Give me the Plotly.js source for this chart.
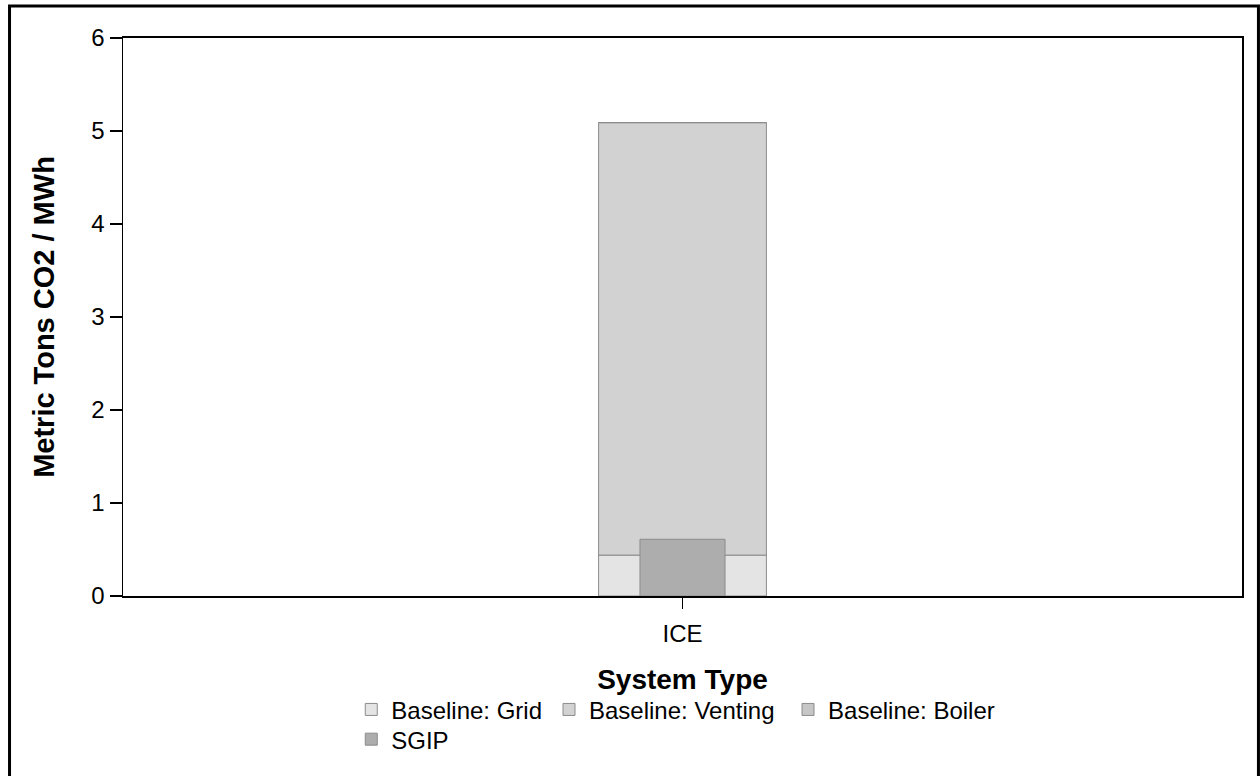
<!DOCTYPE html>
<html>
<head>
<meta charset="utf-8">
<script src="https://cdn.plot.ly/plotly-3.0.1.min.js"></script>
<style>
html,body{margin:0;padding:0;background:#fff;}
#chart{width:1260px;height:776px;}
</style>
</head>
<body>
<div id="chart"></div>
<script>
var categories = ['ICE'];
var baselineGrid = [0.44];
var baselineVenting = [4.65];
var baselineBoiler = [0];
var sgip = [0.61];
var yTickVals = [0, 1, 2, 3, 4, 5, 6];
var yTickText = ['0', '1', '2', '3', '4', '5', '6'];

var baseVent = baselineGrid.slice();
var baseBoiler = baselineGrid.map(function (v, i) { return v + baselineVenting[i]; });

var FONT = 'Liberation Sans, Arial, Helvetica, sans-serif';
var outline = {color: '#8c8c8c', width: 1};

var traces = [
  {type: 'bar', name: 'Baseline: Grid', x: categories, y: baselineGrid, width: 0.15,
   marker: {color: '#e4e4e4', line: outline}, legend: 'legend', showlegend: true},
  {type: 'bar', name: 'Baseline: Venting', x: categories, y: baselineVenting, base: baseVent, width: 0.15,
   marker: {color: '#d2d2d2', line: outline}, legend: 'legend3', showlegend: true},
  {type: 'bar', name: 'Baseline: Boiler', x: categories, y: baselineBoiler, base: baseBoiler, width: 0.15,
   marker: {color: '#c6c6c6', line: outline}, legend: 'legend4', showlegend: true},
  {type: 'bar', name: 'SGIP', x: categories, y: sgip, width: 0.076,
   marker: {color: '#adadad', line: outline}, legend: 'legend2', showlegend: true}
];

function leg(x, y) {
  return {
    visible: true,
    orientation: 'h', x: x, xanchor: 'left', y: y, yanchor: 'top',
    font: {family: FONT, size: 24, color: '#000'},
    bgcolor: 'rgba(0,0,0,0)', itemclick: false, itemdoubleclick: false
  };
}

var layout = {
  width: 1260, height: 776,
  showlegend: true,
  margin: {l: 123, r: 18, t: 38, b: 180, autoexpand: false},
  paper_bgcolor: '#ffffff', plot_bgcolor: '#ffffff',
  barmode: 'overlay',
  font: {family: FONT, color: '#000', size: 24},
  xaxis: {
    type: 'category', range: [-0.5, 0.5],
    showline: true, linecolor: '#000', linewidth: 2, mirror: true,
    ticks: 'outside', ticklen: 11, tickcolor: '#000', tickwidth: 1.5,
    ticklabelstandoff: 4,
    tickfont: {family: FONT, size: 24, color: '#000'},
    showgrid: false, zeroline: false, automargin: false,
    title: {text: 'System Type', font: {family: FONT, size: 28, color: '#000', weight: 'bold'}, standoff: 24}
  },
  yaxis: {
    range: [0, 6], tickvals: yTickVals, ticktext: yTickText,
    showline: true, linecolor: '#000', linewidth: 1.5, mirror: true,
    ticks: 'outside', ticklen: 12, tickcolor: '#000', tickwidth: 1.5,
    tickfont: {family: FONT, size: 24, color: '#000'},
    showgrid: false, zeroline: false, automargin: false,
    title: {text: 'Metric Tons CO2 / MWh', font: {family: FONT, size: 29, color: '#000', weight: 'bold'}, standoff: 28}
  },
  legend: leg(0.204, -0.1637),
  legend3: leg(0.3807, -0.1637),
  legend4: leg(0.5943, -0.1637),
  legend2: leg(0.204, -0.217),
  shapes: [
    {type: 'rect', xref: 'paper', yref: 'paper', x0: -0.1014, x1: 1.0147, y0: -0.6, y1: 1.0573,
     line: {color: '#000', width: 3}, fillcolor: 'rgba(0,0,0,0)', layer: 'above'}
  ]
};

Plotly.newPlot('chart', traces, layout, {displayModeBar: false, staticPlot: true});
</script>
</body>
</html>
